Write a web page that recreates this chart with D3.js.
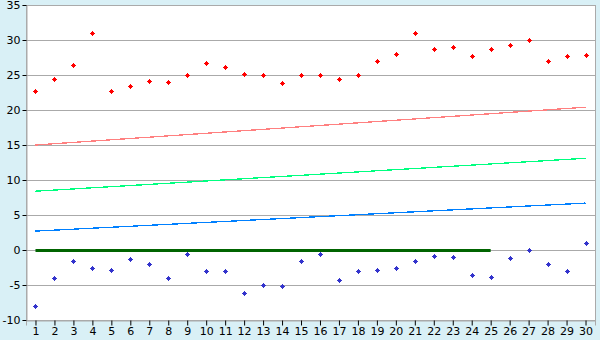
<!DOCTYPE html>
<html>
<head>
<meta charset="utf-8">
<script src="https://cdn.jsdelivr.net/npm/d3@7"></script>
<style>
  body { margin: 0; background: #d9f0f6; }
  text { font-family: "DejaVu Sans", Verdana, sans-serif; font-size: 11px; fill: #000; }
</style>
</head>
<body>
<div id="chart"></div>
<script>
// Categorias e séries
const categories = d3.range(1, 31).map(String);
const highs = [22.7, 24.4, 26.4, 31.0, 22.7, 23.4, 24.2, 24.0, 25.0, 26.7,
  26.1, 25.2, 25.0, 23.8, 25.0, 25.0, 24.4, 25.0, 27.0, 28.0,
  31.0, 28.7, 29.0, 27.7, 28.7, 29.3, 30.0, 27.0, 27.7, 27.8];
const lows = [-8.0, -4.0, -1.5, -2.5, -2.8, -1.3, -2.0, -4.0, -0.6, -3.0,
  -3.0, -6.2, -5.0, -5.2, -1.5, -0.6, -4.3, -3.0, -2.9, -2.6,
  -1.6, -0.9, -1.0, -3.6, -3.8, -1.2, 0.0, -2.0, -3.0, 1.0];
// Linhas de tendência: [início, fim]
const trendRed = [15.0, 20.4];
const trendGreen = [8.4, 13.1];
const trendBlue = [2.7, 6.7];
const zeroLineEnd = '25';
const yTicks = [-10, -5, 0, 5, 10, 15, 20, 25, 30, 35];

const width = 600, height = 340;
const margin = { top: 5, right: 5, bottom: 20, left: 26 };

const svg = d3.select('#chart').append('svg')
  .attr('width', width)
  .attr('height', height);

const x = d3.scalePoint()
  .domain(categories)
  .range([margin.left, width - margin.right])
  .padding(0.5);

const y = d3.scaleLinear()
  .domain([-10, 35])
  .range([height - margin.bottom, margin.top]);

// Área do gráfico
svg.append('rect')
  .attr('x', margin.left).attr('y', margin.top)
  .attr('width', width - margin.left - margin.right)
  .attr('height', height - margin.top - margin.bottom)
  .attr('fill', '#fff')
  .attr('stroke', '#aaa')
  .attr('shape-rendering', 'crispEdges');

// Grade
svg.append('g')
  .selectAll('line')
  .data(yTicks)
  .enter().append('line')
  .attr('x1', margin.left).attr('x2', width - margin.right)
  .attr('y1', d => Math.round(y(d)) + 0.5).attr('y2', d => Math.round(y(d)) + 0.5)
  .attr('stroke', '#aaa');

// Eixo Y
const yAxis = svg.append('g')
  .attr('transform', `translate(${margin.left + 0.5},0)`)
  .call(d3.axisLeft(y).tickValues(yTicks).tickSize(4).tickPadding(2)
    .tickFormat(d => String(d)));
yAxis.select('.domain').attr('stroke', '#aaa');
yAxis.selectAll('.tick line').attr('stroke', '#000');
yAxis.selectAll('text').attr('dy', '0.36em');

// Eixo X
const xAxis = svg.append('g')
  .attr('transform', `translate(0,${height - margin.bottom + 0.5})`)
  .call(d3.axisBottom(x).tickSize(5).tickPadding(2));
xAxis.select('.domain').attr('stroke', '#aaa');
xAxis.selectAll('.tick line').attr('stroke', '#000');

// Tendências
const trends = [
  { v: trendRed, color: '#ff8080' },
  { v: trendGreen, color: '#00ff80' },
  { v: trendBlue, color: '#0080ff' }
];
svg.append('g')
  .selectAll('line')
  .data(trends)
  .enter().append('line')
  .attr('x1', x(categories[0])).attr('x2', x(categories[categories.length - 1]))
  .attr('y1', d => y(d.v[0])).attr('y2', d => y(d.v[1]))
  .attr('stroke', d => d.color)
  .attr('stroke-width', 1.3)
  .attr('shape-rendering', 'crispEdges');

// Linha zero
svg.append('line')
  .attr('x1', x(categories[0])).attr('x2', x(zeroLineEnd))
  .attr('y1', y(0) + 0.5).attr('y2', y(0) + 0.5)
  .attr('stroke', '#006400')
  .attr('stroke-width', 3);

// Marcador em cruz com centro mais grosso (alinhado aos pixels)
const plusShape = {
  draw(ctx) {
    const a = 2.5, b = 1.5, c = 0.5;
    const pts = [[-a, -c], [-b, -c], [-b, -b], [-c, -b], [-c, -a], [c, -a], [c, -b], [b, -b],
      [b, -c], [a, -c], [a, c], [b, c], [b, b], [c, b], [c, a], [-c, a], [-c, b], [-b, b],
      [-b, c], [-a, c]];
    ctx.moveTo(pts[0][0], pts[0][1]);
    pts.slice(1).forEach(p => ctx.lineTo(p[0], p[1]));
    ctx.closePath();
  }
};
const marker = d3.symbol().type(plusShape);
function drawPoints(values, color) {
  svg.append('g')
    .selectAll('path')
    .data(values)
    .enter().append('path')
    .attr('d', marker)
    .attr('transform', (d, i) => `translate(${Math.round(x(categories[i])) + 0.5},${Math.round(y(d)) + 0.5})`)
    .attr('fill', color);
}
drawPoints(highs, '#ff0000');
drawPoints(lows, '#3333cc');
</script>
</body>
</html>
